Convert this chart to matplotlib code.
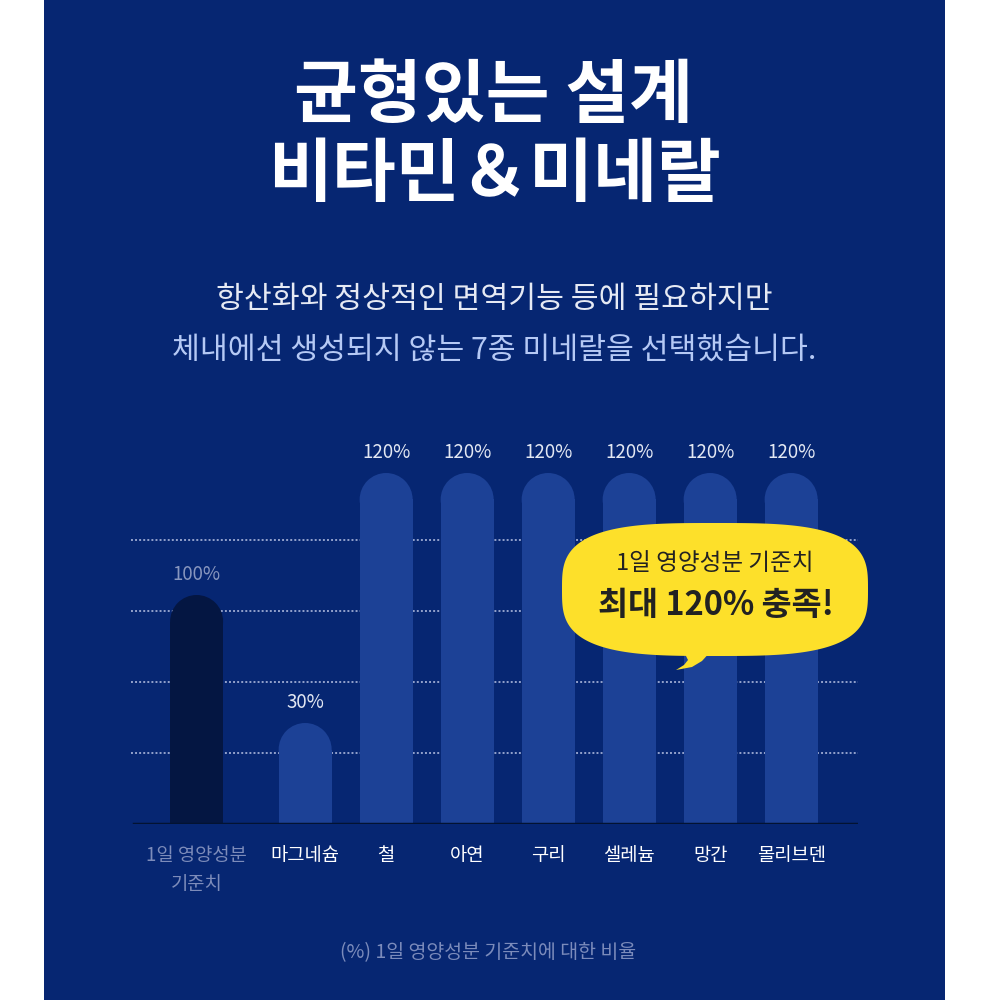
import matplotlib.pyplot as plt
import numpy as np
from matplotlib.patches import Ellipse, Rectangle, Polygon

plt.rcParams['font.family'] = ['Noto Sans CJK KR', 'DejaVu Sans']

# data
categories = ['1일 영양성분\n기준치', '마그네슘', '철', '아연', '구리', '셀레늄', '망간', '몰리브덴']
values = [100, 30, 120, 120, 120, 120, 120, 120]
# drawn bar heights (the artwork is not to scale)
drawn = [229, 101, 351, 351, 351, 351, 351, 351]
grid_levels = [71, 142, 213, 284]

navy = '#062672'
bar_col = '#1c4196'
ref_col = '#041642'

fig = plt.figure(figsize=(10, 10), dpi=100)
fig.patch.set_facecolor('white')
fig.patches.append(Rectangle((0.044, 0), 0.901, 1, transform=fig.transFigure,
                             facecolor=navy, edgecolor='none', zorder=-5))

# headline
fig.text(0.494, 1 - 0.097, '균형있는 설계', ha='center', va='center',
         fontsize=50, fontweight='bold', color='white')
fig.text(0.494, 1 - 0.176, '비타민＆미네랄', ha='center', va='center',
         fontsize=50, fontweight='bold', color='white')
fig.text(0.494, 1 - 0.300, '항산화와 정상적인 면역기능 등에 필요하지만', ha='center',
         va='center', fontsize=21.8, color='#e6eaf4')
fig.text(0.494, 1 - 0.350, '체내에선 생성되지 않는 7종 미네랄을 선택했습니다.', ha='center',
         va='center', fontsize=21.8, color='#b5c9f5')
fig.text(0.488, 1 - 0.953, '(%) 1일 영양성분 기준치에 대한 비율', ha='center',
         va='center', fontsize=14, color='#7b8bbb')

# chart, 1 y-unit = 1 pixel, 1 x-unit = bar spacing (81 px)
ax = fig.add_axes([0.131, 0.176, 0.727, 0.394])
ax.set_facecolor('none')
ax.set_xlim(0, 727 / 81)
ax.set_ylim(0, 394)
for s in ax.spines.values():
    s.set_visible(False)

pos = np.arange(len(categories)) + 1.15
pos[0] -= 0.34
w = 53 / 81
r = 26.5
colors = [ref_col] + [bar_col] * (len(categories) - 1)

for g in grid_levels:
    ax.axhline(g, color='#93a2cc', lw=1.4, ls=(0, (1, 1.1)), zorder=1)

heights = np.array(drawn) - r
ax.bar(pos, heights, width=w, color=colors, zorder=2)
for x, h, c in zip(pos, heights, colors):
    ax.add_patch(Ellipse((x, h), w, 2 * r, facecolor=c, edgecolor='none', zorder=2))

for i, (x, d, v) in enumerate(zip(pos, drawn, values)):
    ax.text(x, d + 21, f'{v}%', ha='center', va='center', fontsize=13.5,
            color='#8896be' if i == 0 else '#e2e7f2', zorder=3)

ax.axhline(0, xmin=3 / 727, color='#031332', lw=2.5, zorder=3)

ax.set_yticks([])
ax.set_xticks(pos, categories)
ax.tick_params(axis='x', length=0, pad=15, labelsize=13.5)
for i, t in enumerate(ax.get_xticklabels()):
    t.set_color('#7d8cba' if i == 0 else 'white')
    t.set_fontweight('medium')
    t.set_linespacing(1.5)

# speech bubble (superellipse + tail)
ov = fig.add_axes([0, 0, 1, 1])
ov.set_xlim(0, 1000)
ov.set_ylim(1000, 0)
ov.axis('off')
ov.patch.set_alpha(0)
yellow = '#fde02a'
t = np.linspace(0, 2 * np.pi, 400)
n = 3.2
bx = 715 + 153 * np.sign(np.cos(t)) * np.abs(np.cos(t)) ** (2 / n)
by = 589.5 + 66.5 * np.sign(np.sin(t)) * np.abs(np.sin(t)) ** (2 / n)
ov.add_patch(Polygon(np.column_stack([bx, by]), closed=True,
                     facecolor=yellow, edgecolor='none', zorder=4))
ov.add_patch(Polygon([(683, 650), (688, 660), (684, 665), (676, 670), (692, 667),
                      (702, 661), (712, 650)],
                     closed=True, facecolor=yellow, edgecolor='none', zorder=4))
ov.text(715, 563, '1일 영양성분 기준치', ha='center', va='center', fontsize=17,
        fontweight='medium', color='#222222', zorder=5)
ov.text(716, 606, '최대 120% 충족!', ha='center', va='center', fontsize=23.5,
        fontweight='bold', color='#222222', zorder=5)

fig.savefig('out.png', dpi=100)
